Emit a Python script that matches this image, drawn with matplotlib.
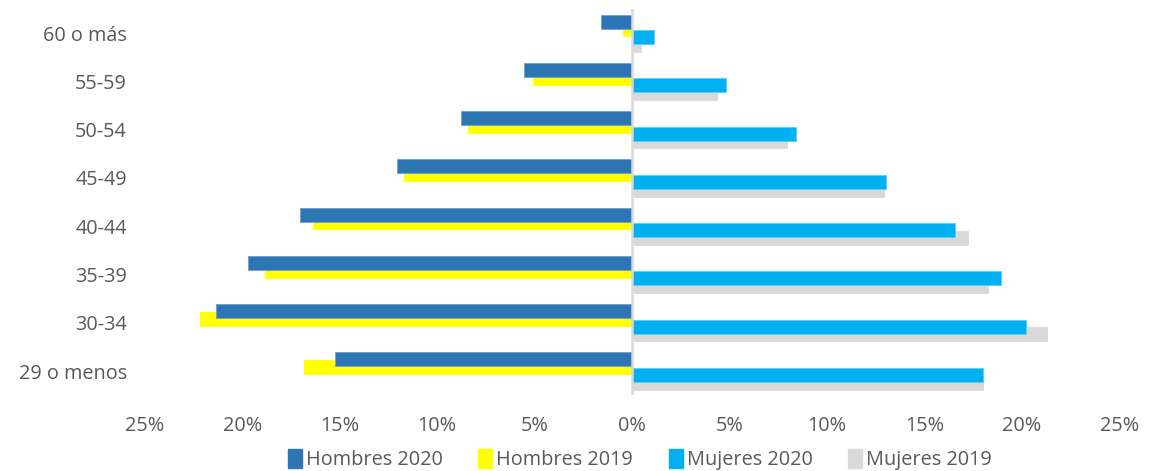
import matplotlib
matplotlib.use("Agg")
import matplotlib.pyplot as plt
import numpy as np
from matplotlib.patches import Patch

categories = ["29 o menos", "30-34", "35-39", "40-44", "45-49", "50-54", "55-59", "60 o más"]
hombres_2020 = [15.25, 21.36, 19.7, 17.05, 12.05, 8.78, 5.57, 1.6]
hombres_2019 = [16.82, 22.18, 18.84, 16.36, 11.7, 8.4, 5.1, 0.48]
mujeres_2020 = [18.0, 20.2, 18.9, 16.56, 13.0, 8.4, 4.8, 1.1]
mujeres_2019 = [17.97, 21.3, 18.27, 17.2, 12.9, 7.96, 4.33, 0.46]
xticks = [-25, -20, -15, -10, -5, 0, 5, 10, 15, 20, 25]

plt.rcParams['font.family'] = ['Open Sans', 'DejaVu Sans']

fig = plt.figure(figsize=(11.59, 4.71), dpi=100)
ax = fig.add_axes([0.125, 0.161, 0.841, 0.82])

y = np.arange(len(categories))
h = 0.29
series = [
    (-np.array(hombres_2020), "#2E75B6", "#6FA0D0", 0.24, "Hombres 2020", 5),
    (-np.array(hombres_2019), "#FFFF00", "#FFFF00", 0.08, "Hombres 2019", 4),
    (np.array(mujeres_2020), "#00B0F0", "#5CCDF5", -0.08, "Mujeres 2020", 3),
    (np.array(mujeres_2019), "#D9D9D9", "#D9D9D9", -0.24, "Mujeres 2019", 2),
]
for vals, col, ec, off, lab, z in series:
    ax.barh(y + off, vals, height=h, color=col, edgecolor=ec, linewidth=0.6, zorder=z)

ax.axvline(0, color="#D9D9D9", linewidth=1.8, zorder=6)
ax.set_xlim(-25, 25)
ax.set_ylim(-0.5, len(categories) - 0.5)
ax.set_xticks(xticks)
ax.set_xticklabels([f"{abs(t)}%" for t in xticks])
ax.set_yticks(y)
ax.set_yticklabels(categories)
for s in ax.spines.values():
    s.set_visible(False)
ax.tick_params(axis="both", length=0, labelsize=14.3, colors="#595959")
ax.tick_params(axis="x", pad=15)
ax.tick_params(axis="y", pad=13)

handles = [Patch(facecolor=c, edgecolor=c) for _, c, _, _, _, _ in series]
labels = [s[4] for s in series]
fig.legend(handles, labels, loc="center", bbox_to_anchor=(0.552, 0.025), ncol=4,
           frameon=False, fontsize=14.3, handlelength=0.7, handleheight=1.1,
           handletextpad=0.2, columnspacing=1.8, labelcolor="#595959")

fig.savefig("out.png", dpi=100)
